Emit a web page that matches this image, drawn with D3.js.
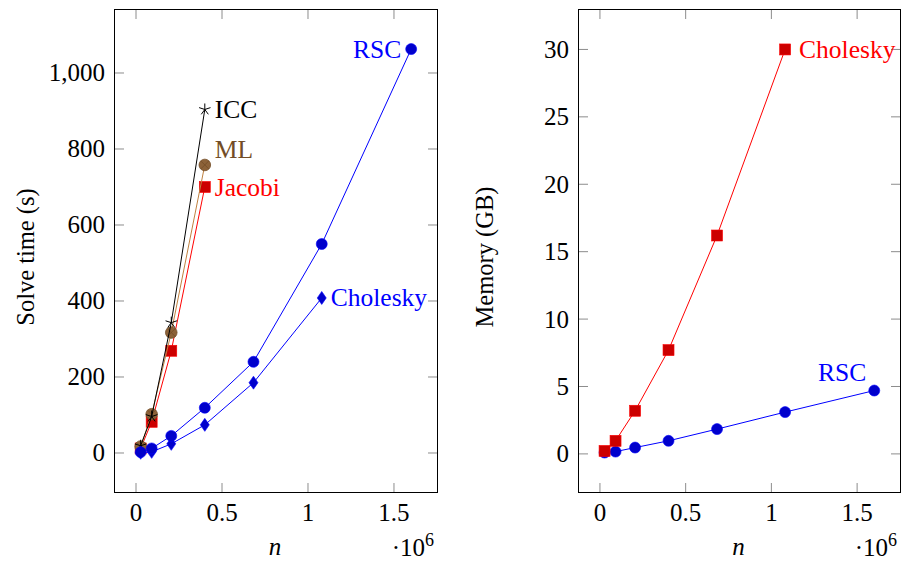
<!DOCTYPE html>
<html lang="en">
<head>
  <meta charset="UTF-8">
  <title>Solve time and memory vs n</title>
  <style>
    * { margin: 0; padding: 0; box-sizing: border-box; }
    body { background: #fff; }
    .frame { fill: none; stroke: #000; stroke-width: 1; }
    .tick-line { stroke: #8c8c8c; stroke-width: 1; }
  </style>
  <script src="https://cdn.jsdelivr.net/npm/d3@7/dist/d3.min.js"></script>
</head>
<body>
  <svg id="chart" width="902" height="561"></svg>
  <script>
    // n in units of 10^6
    const nValues = [0.027, 0.091, 0.205, 0.4, 0.683, 1.08, 1.6];

    // solve time (s)
    const rscTime = [2, 12, 45, 119, 240, 550, 1063];
    const choleskyTime = [0.5, 3, 24, 74, 185, 408];
    const jacobiTime = [12, 82, 269, 700];
    const mlTime = [17, 102, 317, 758];
    const iccTime = [19, 96, 343, 904];

    // memory (GB)
    const rscMemory = [0.1, 0.17, 0.47, 0.97, 1.84, 3.1, 4.7];
    const choleskyMemory = [0.22, 0.97, 3.2, 7.7, 16.2, 30.0];

    const xTicks = [0, 0.5, 1, 1.5];
    const timeTicks = [0, 200, 400, 600, 800, 1000];
    const memoryTicks = [0, 5, 10, 15, 20, 25, 30];

    const BLUE = '#0000ff', BLUE_FILL = '#0000cc';
    const RED = '#ff0000', RED_FILL = '#cc0000';
    const BROWN = '#bf8040', BROWN_FILL = '#8c6239', BROWN_DARK = '#734d26';
    const SERIF = 'Liberation Serif';

    const svg = d3.select('#chart');
    const TICK = 10;

    function toPoints(ys) {
      return ys.map((y, i) => ({ x: nValues[i], y }));
    }

    // every text gets its font inline so nothing can override it
    function addText(g, size) {
      return g.append('text').style('font-family', SERIF).style('font-size', size + 'px');
    }

    function drawPanel(opts) {
      const { left, right, top, bottom, yDomain, yTicks, yFormat, yTitle, yTitleX, series } = opts;
      const x = d3.scaleLinear().domain([-0.128, 1.756]).range([left, right]);
      const y = d3.scaleLinear().domain(yDomain).range([bottom, top]);
      const g = svg.append('g');

      // ticks on all four sides, pointing inward
      const tg = g.append('g');
      xTicks.forEach(t => {
        tg.append('line').attr('class', 'tick-line')
          .attr('x1', x(t)).attr('x2', x(t)).attr('y1', bottom).attr('y2', bottom - TICK);
        tg.append('line').attr('class', 'tick-line')
          .attr('x1', x(t)).attr('x2', x(t)).attr('y1', top).attr('y2', top + TICK);
        addText(g, 25)
          .attr('x', x(t)).attr('y', 521).attr('text-anchor', 'middle')
          .text(d3.format('')(t));
      });
      yTicks.forEach(t => {
        tg.append('line').attr('class', 'tick-line')
          .attr('x1', left).attr('x2', left + TICK).attr('y1', y(t)).attr('y2', y(t));
        tg.append('line').attr('class', 'tick-line')
          .attr('x1', right).attr('x2', right - TICK).attr('y1', y(t)).attr('y2', y(t));
        addText(g, 25)
          .attr('x', left - 9).attr('y', y(t)).attr('dy', '0.34em').attr('text-anchor', 'end')
          .text(yFormat(t));
      });

      g.append('rect').attr('class', 'frame')
        .attr('x', left + 0.5).attr('y', top + 0.5)
        .attr('width', right - left - 1).attr('height', bottom - top - 1);

      // axis titles
      addText(g, 25)
        .attr('x', (left + right) / 2 - 1).attr('y', 555).attr('text-anchor', 'middle')
        .style('font-style', 'italic').text('n');
      const exp = addText(g, 25)
        .attr('x', right - 4).attr('y', 556).attr('text-anchor', 'end');
      exp.append('tspan').text('·10');
      exp.append('tspan').attr('dy', -10).style('font-size', '18px').text('6');
      addText(g, 24.5)
        .attr('transform', `translate(${yTitleX},${(top + bottom) / 2 + 6}) rotate(-90)`)
        .attr('text-anchor', 'middle').text(yTitle);

      const line = d3.line().x(d => x(d.x)).y(d => y(d.y));
      series.forEach(s => {
        const pts = toPoints(s.values);
        g.append('path').datum(pts)
          .attr('fill', 'none').attr('stroke', s.color).attr('stroke-width', 1)
          .attr('d', line);
        const mg = g.append('g');
        pts.forEach(p => drawMarker(mg, s.marker, x(p.x), y(p.y), s));
        const last = pts[pts.length - 1];
        addText(g, 25.5)
          .attr('x', x(last.x) + s.label.dx).attr('y', y(last.y) + s.label.dy)
          .attr('dy', '0.35em').attr('text-anchor', s.label.anchor)
          .attr('fill', s.label.color || s.color).text(s.label.text);
      });
    }

    function drawMarker(g, type, cx, cy, s) {
      if (type === 'circle') {
        g.append('circle').attr('cx', cx).attr('cy', cy).attr('r', 5.5)
          .attr('fill', s.fill).attr('stroke', s.color).attr('stroke-width', 0.6);
      } else if (type === 'square') {
        g.append('rect').attr('x', cx - 5.5).attr('y', cy - 5.5).attr('width', 11).attr('height', 11)
          .attr('fill', s.fill).attr('stroke', s.color).attr('stroke-width', 0.6);
      } else if (type === 'diamond') {
        g.append('path').attr('d', `M${cx},${cy - 6.5}L${cx + 4.5},${cy}L${cx},${cy + 6.5}L${cx - 4.5},${cy}Z`)
          .attr('fill', s.fill).attr('stroke', s.color).attr('stroke-width', 0.6);
      } else if (type === 'otimes') {
        g.append('circle').attr('cx', cx).attr('cy', cy).attr('r', 5.8)
          .attr('fill', s.fill).attr('stroke', BROWN_DARK).attr('stroke-width', 0.8);
        const d = 4.1;
        g.append('path')
          .attr('d', `M${cx - d},${cy - d}L${cx + d},${cy + d}M${cx + d},${cy - d}L${cx - d},${cy + d}`)
          .attr('stroke', BROWN_DARK).attr('stroke-width', 0.8);
      } else if (type === 'star') {
        const r = 6;
        let d = '';
        for (let k = 0; k < 5; k++) {
          const a = -Math.PI / 2 + k * 2 * Math.PI / 5;
          d += `M${cx},${cy}L${cx + r * Math.cos(a)},${cy + r * Math.sin(a)}`;
        }
        g.append('path').attr('d', d).attr('stroke', '#000').attr('stroke-width', 1).attr('fill', 'none');
      }
    }

    drawPanel({
      left: 114, right: 438, top: 9, bottom: 493,
      yDomain: [-105.3, 1168.4], yTicks: timeTicks, yFormat: d3.format(','),
      yTitle: 'Solve time (s)', yTitleX: 34,
      series: [
        { values: jacobiTime, color: RED, fill: RED_FILL, marker: 'square',
          label: { text: 'Jacobi', dx: 10, dy: 0, anchor: 'start' } },
        { values: mlTime, color: BROWN, fill: BROWN_FILL, marker: 'otimes',
          label: { text: 'ML', dx: 10, dy: -16, anchor: 'start', color: BROWN_DARK } },
        { values: iccTime, color: '#000', fill: '#000', marker: 'star',
          label: { text: 'ICC', dx: 10, dy: 0, anchor: 'start' } },
        { values: choleskyTime, color: BLUE, fill: BLUE_FILL, marker: 'diamond',
          label: { text: 'Cholesky', dx: 9, dy: -1, anchor: 'start' } },
        { values: rscTime, color: BLUE, fill: BLUE_FILL, marker: 'circle',
          label: { text: 'RSC', dx: -10, dy: 0, anchor: 'end' } }
      ]
    });

    drawPanel({
      left: 578, right: 901, top: 9, bottom: 493,
      yDomain: [-2.9, 33.0], yTicks: memoryTicks, yFormat: d3.format(''),
      yTitle: 'Memory (GB)', yTitleX: 493,
      series: [
        { values: rscMemory, color: BLUE, fill: BLUE_FILL, marker: 'circle',
          label: { text: 'RSC', dx: -8, dy: -18, anchor: 'end' } },
        { values: choleskyMemory, color: RED, fill: RED_FILL, marker: 'square',
          label: { text: 'Cholesky', dx: 14, dy: 0, anchor: 'start' } }
      ]
    });
  </script>
</body>
</html>
